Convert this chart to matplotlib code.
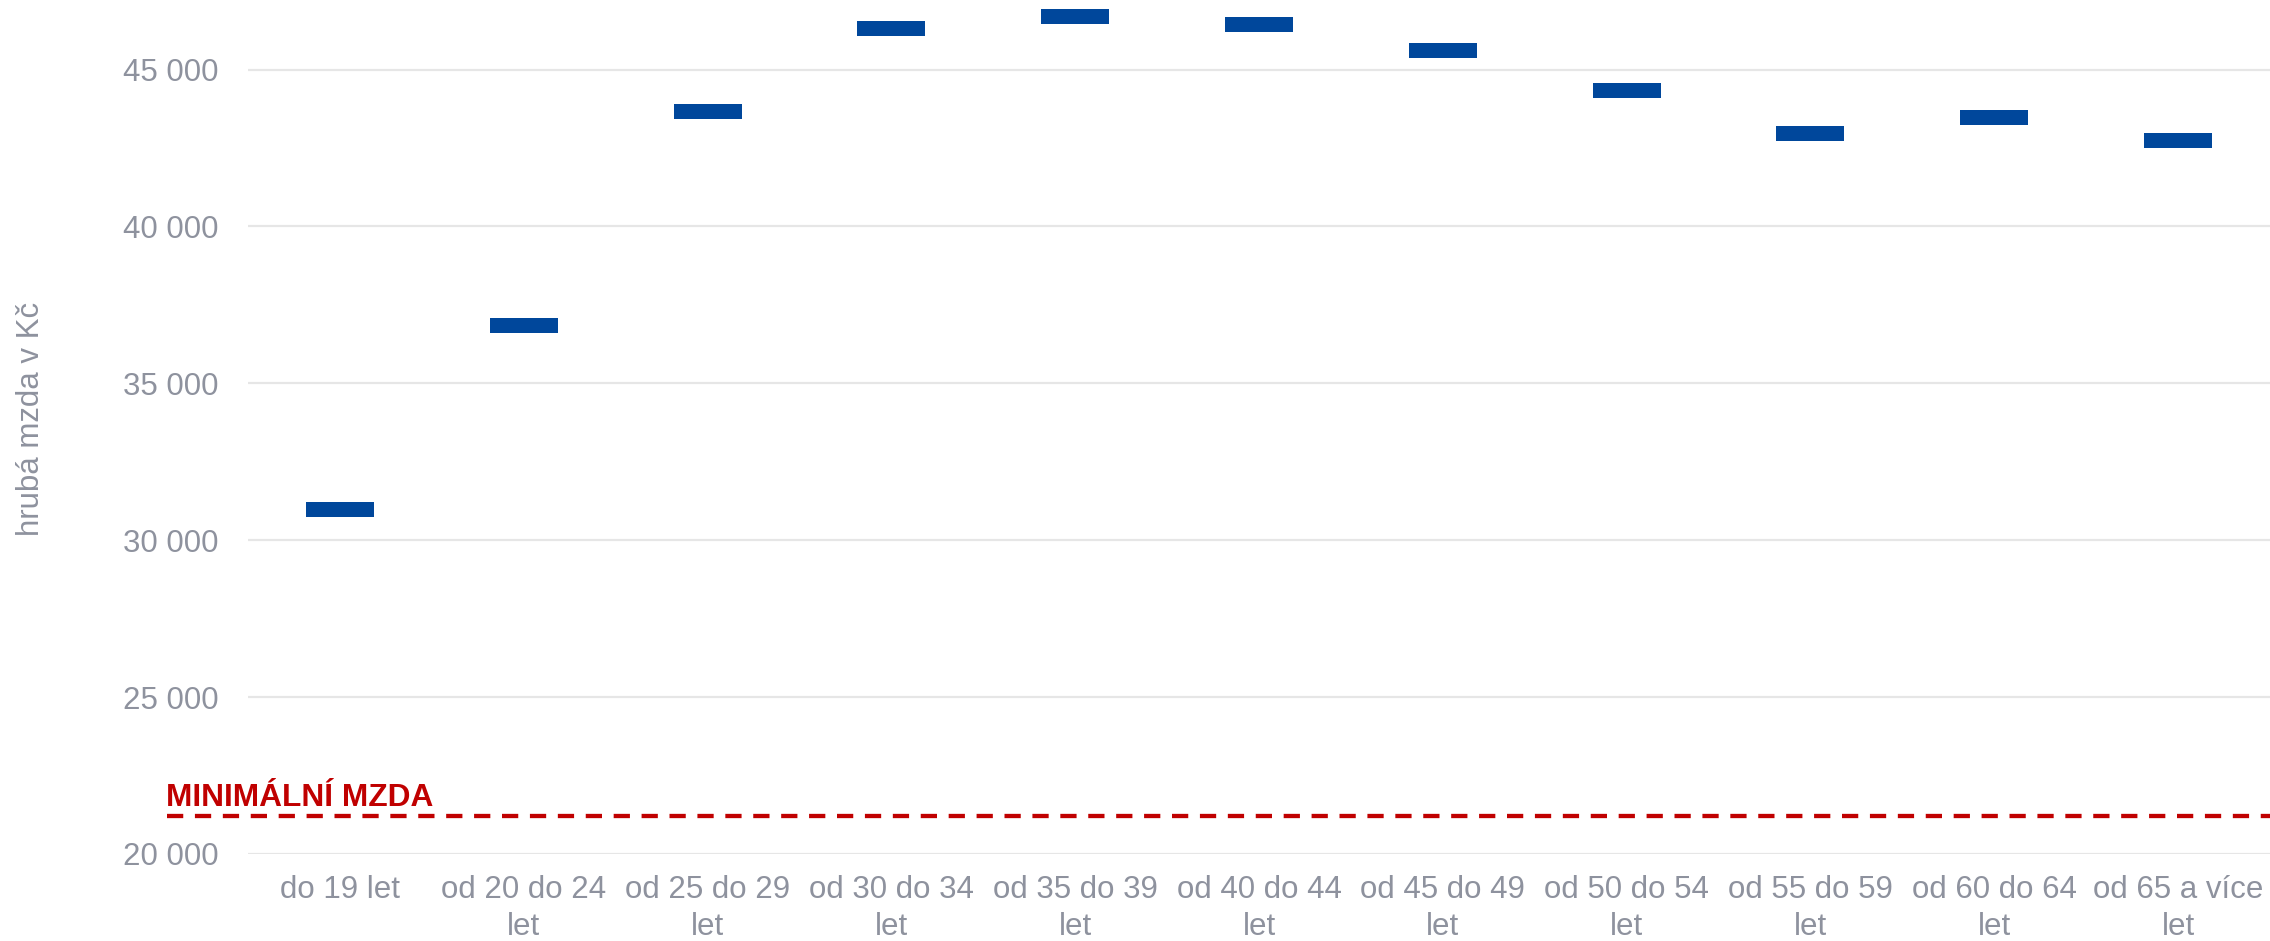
import matplotlib
matplotlib.use("Agg")
import matplotlib.pyplot as plt
import matplotlib.transforms as mtransforms
import numpy as np

plt.rcParams['font.family'] = ['Liberation Sans', 'DejaVu Sans']

# data
categories = ['do 19 let', 'od 20 do 24\nlet', 'od 25 do 29\nlet', 'od 30 do 34\nlet',
              'od 35 do 39\nlet', 'od 40 do 44\nlet', 'od 45 do 49\nlet', 'od 50 do 54\nlet',
              'od 55 do 59\nlet', 'od 60 do 64\nlet', 'od 65 a více\nlet']
wages = [30980, 36850, 43650, 46320, 46700, 46440, 45620, 44320, 42950, 43460, 42730]
min_wage = 21200
y_ticks = [20000, 25000, 30000, 35000, 40000, 45000]
y_ticklabels = ['20 000', '25 000', '30 000', '35 000', '40 000', '45 000']

BLUE = '#00479B'
RED = '#C00000'
GREY = '#8E929E'
GRID = '#E6E6E6'

fig = plt.figure(figsize=(22.7, 9.41), dpi=100)
ax = fig.add_axes([0.1093, 0.0925, 0.8907, 0.9075])

x = np.arange(len(categories))
# each value is drawn as a short thick bar centred on the wage
mark_h = 480
ax.bar(x, mark_h, bottom=np.array(wages) - mark_h / 2, width=0.37, color=BLUE, zorder=3)

ax.set_xlim(-0.5, len(categories) - 0.5)
ax.set_ylim(20000, 47218)
ax.set_yticks(y_ticks)
ax.set_yticklabels(y_ticklabels)
ax.set_xticks(x)
ax.set_xticklabels(categories, linespacing=1.3)
ax.tick_params(axis='both', length=0, labelsize=22.5, labelcolor=GREY)
ax.tick_params(axis='y', pad=21)
ax.tick_params(axis='x', pad=15)

ax.grid(axis='y', color=GRID, linewidth=1.6, zorder=0)
for s in ax.spines.values():
    s.set_visible(False)

ax.set_ylabel('hrubá mzda v Kč', fontsize=22.5, color=GREY, labelpad=0)
ax.yaxis.set_label_coords(-0.1, 0.51)

# minimum wage line reaching left past the plot area
trans = mtransforms.blended_transform_factory(ax.transAxes, ax.transData)
lw = 3.1
line, = ax.plot([-0.04, 1.0], [min_wage, min_wage], color=RED, linewidth=lw,
                transform=trans, clip_on=False, zorder=4)
line.set_dashes([11.7 / lw, 8.4 / lw])
ax.text(-0.0405, min_wage + 320, 'MINIMÁLNÍ MZDA', transform=trans, color=RED,
        fontsize=22.8, fontweight='bold', ha='left', va='baseline')

fig.savefig('out.png', dpi=100)
